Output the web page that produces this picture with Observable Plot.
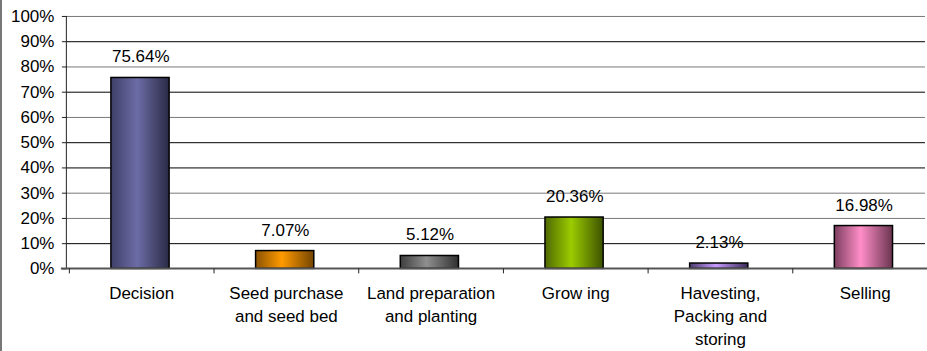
<!DOCTYPE html>
<html>
<head>
<meta charset="utf-8">
<script src="https://cdn.jsdelivr.net/npm/d3@7"></script>
<script src="https://cdn.jsdelivr.net/npm/@observablehq/plot@0.6"></script>
<style>
  html, body { margin: 0; padding: 0; background: #fff; overflow: hidden; }
  #chart { width: 927px; height: 351px; position: relative; box-sizing: border-box; border-left: 2px solid #777; }
  #chart svg { position: absolute; left: -2px; top: 0; }
</style>
</head>
<body>
<div id="chart"></div>
<script>
const categories = ["Decision", "Seed purchase\nand seed bed", "Land preparation\nand planting", "Grow ing", "Havesting,\nPacking and\nstoring", "Selling"];
const values = [75.64, 7.07, 5.12, 20.36, 2.13, 16.98];
const yTicks = [0, 10, 20, 30, 40, 50, 60, 70, 80, 90, 100];
const gridTone = ["#000", "#000", "#777", "#777", "#000", "#000", "#777", "#000", "#777", "#000", "#777"];
const gradients = [
  ["#3f3f68", "#6c6ca6", "#2a2a46"],
  ["#8a5200", "#ff9a00", "#744400"],
  ["#3e3e3e", "#8f8f8f", "#303030"],
  ["#4f6800", "#9bcc00", "#3d5200"],
  ["#4c3c6e", "#c89cff", "#3a2a58"],
  ["#7c3e5e", "#ff8ec8", "#6a3450"]
];

const data = categories.map((c, i) => ({cat: c, v: values[i] / 100, grad: `url(#g${i})`}));
const grid = yTicks.map((t, i) => ({v: t / 100, tone: gridTone[i]})).slice(1);
const font = "'Liberation Sans', Arial, sans-serif";

const defs = () => {
  const d = d3.create("svg:defs");
  gradients.forEach((g, i) => {
    const lg = d.append("linearGradient").attr("id", `g${i}`).attr("x1", "0").attr("x2", "1").attr("y1", "0").attr("y2", "0");
    lg.append("stop").attr("offset", "0%").attr("stop-color", g[0]);
    lg.append("stop").attr("offset", "45%").attr("stop-color", g[1]);
    lg.append("stop").attr("offset", "100%").attr("stop-color", g[2]);
  });
  return d.node();
};

// axis frame: y-axis line, baseline and category boundary ticks
const frame = (index, scales) => {
  const x = scales.x;
  const step = x.step();
  const y0 = scales.y(0);
  const yTop = scales.y(1);
  const g = d3.create("svg:g");
  const xs = categories.map(c => x(c)).concat([x(categories[categories.length - 1]) + step]);
  g.append("line").attr("x1", 66.5).attr("x2", 66.5).attr("y1", yTop).attr("y2", y0).attr("stroke", "#222").attr("stroke-width", 1);
  g.append("line").attr("x1", 61).attr("x2", 941).attr("y1", y0).attr("y2", y0).attr("stroke", "#555").attr("stroke-width", 2);
  xs.forEach(xv => {
    const xb = Math.round(xv) + 0.5;
    g.append("line").attr("x1", xb).attr("x2", xb).attr("y1", y0).attr("y2", y0 + 5).attr("stroke", "#222").attr("stroke-width", 1);
  });
  return g.node();
};

const barWidth = 59;
const step = (941 - 67) / categories.length;
const inset = (step - barWidth) / 2;

const plot = Plot.plot({
  width: 927,
  height: 351,
  marginLeft: 67,
  marginRight: 0,
  marginTop: 16,
  marginBottom: 82,
  style: {fontFamily: font, fontSize: "17px", color: "#000", background: "transparent", overflow: "visible"},
  x: {domain: categories, range: [67, 941], padding: 0, label: null},
  y: {domain: [0, 1], range: [269, 16], label: null},
  color: {type: "identity"},
  marks: [
    defs,
    Plot.ruleY(grid, {y: "v", stroke: "tone", strokeWidth: 1}),
    Plot.barY(data, {x: "cat", y: "v", fill: "grad", stroke: "#000", strokeWidth: 1.5, insetLeft: inset - 1.2, insetRight: inset + 1.2}),
    Plot.text(data, {x: "cat", y: "v", text: d => (d.v * 100).toFixed(2) + "%", dy: -21, dx: -1, fontSize: 17, fill: "#000"}),
    Plot.axisY(yTicks.map(d => d / 100), {tickFormat: d => Math.round(d * 100) + "%", tickSize: 5, tickPadding: 8, fontSize: 17, stroke: "#222", fill: "#000", label: null}),
    Plot.axisX({tickSize: 0, tickPadding: 14, fontSize: 17, lineHeight: 1.36, fill: "#000", label: null}),
    frame
  ]
});
document.getElementById("chart").appendChild(plot);
</script>
</body>
</html>
